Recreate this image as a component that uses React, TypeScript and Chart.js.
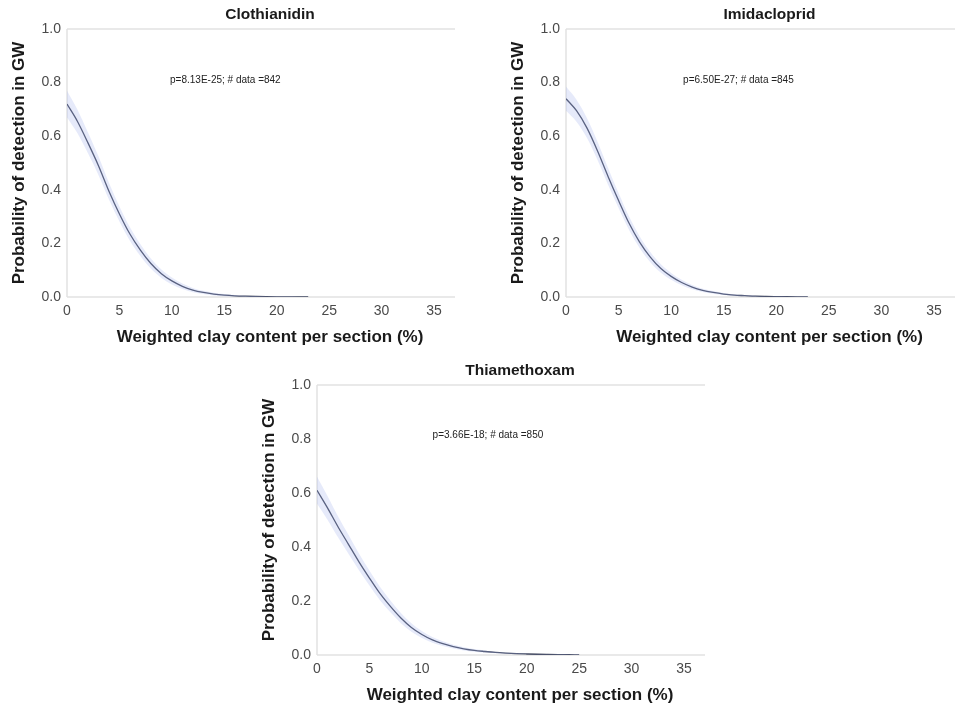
import React, { useEffect, useRef } from "react";
import { Chart, registerables } from "chart.js";

Chart.register(...registerables);

// ---- data ----
const CLAY_PCT = [0, 1, 2, 3, 4, 5, 6, 7, 8, 9, 10, 11, 12, 13, 14, 15, 16, 17, 18, 19, 20, 21, 22, 23, 24, 25];

const CLOTHIANIDIN_P = [0.72, 0.655, 0.575, 0.49, 0.395, 0.31, 0.235, 0.175, 0.125, 0.087, 0.06, 0.04, 0.026, 0.017, 0.011, 0.007, 0.0045, 0.003, 0.002, 0.0013, 0.0008, 0.0005, 0.0003, 0.0002];
const CLOTHIANIDIN_CI = [0.05, 0.044, 0.039, 0.035, 0.031, 0.028, 0.025, 0.022, 0.019, 0.016, 0.013, 0.01, 0.008, 0.006, 0.005, 0.004, 0.003, 0.002, 0.002, 0.001, 0.001, 0.001, 0.001, 0.001];

const IMIDACLOPRID_P = [0.74, 0.695, 0.63, 0.545, 0.45, 0.36, 0.275, 0.205, 0.15, 0.107, 0.077, 0.054, 0.037, 0.025, 0.017, 0.011, 0.007, 0.005, 0.003, 0.002, 0.0014, 0.0009, 0.0006, 0.0004];
const IMIDACLOPRID_CI = [0.045, 0.041, 0.037, 0.034, 0.031, 0.028, 0.025, 0.022, 0.019, 0.016, 0.013, 0.01, 0.008, 0.006, 0.005, 0.004, 0.003, 0.002, 0.002, 0.001, 0.001, 0.001, 0.001, 0.001];

const THIAMETHOXAM_P = [0.61, 0.545, 0.475, 0.41, 0.345, 0.285, 0.228, 0.18, 0.137, 0.102, 0.076, 0.056, 0.042, 0.031, 0.023, 0.017, 0.013, 0.0095, 0.007, 0.005, 0.0037, 0.0027, 0.002, 0.0014, 0.001, 0.0007];
const THIAMETHOXAM_CI = [0.05, 0.044, 0.039, 0.035, 0.031, 0.028, 0.025, 0.022, 0.019, 0.016, 0.013, 0.011, 0.009, 0.007, 0.006, 0.005, 0.004, 0.003, 0.002, 0.002, 0.001, 0.001, 0.001, 0.001, 0.001, 0.001];

const TITLES = ["Clothianidin", "Imidacloprid", "Thiamethoxam"];
const NOTES = ["p=8.13E-25; # data =842", "p=6.50E-27; # data =845", "p=3.66E-18; # data =850"];
const NOTE_POS_X = [15.1, 16.4, 16.3];
const NOTE_POS_Y = [0.81, 0.81, 0.815];

const X_TICKS = [0, 5, 10, 15, 20, 25, 30, 35];
const Y_TICKS = [0, 0.2, 0.4, 0.6, 0.8, 1.0];
const X_MAX = 37;

const X_TITLE = "Weighted clay content per section (%)";
const Y_TITLE = "Probability of detection in GW";

const FONT = "'Liberation Sans', Arial, Helvetica, sans-serif";

type Box = { left: number; top: number; width: number; height: number };
type Area = { l: number; t: number; r: number; b: number };

const PANELS: { idx: number; values: number[]; ci: number[]; box: Box; area: Area }[] = [
  { idx: 0, values: CLOTHIANIDIN_P, ci: CLOTHIANIDIN_CI, box: { left: 0, top: 0, width: 480, height: 350 }, area: { l: 67, t: 29, r: 455, b: 297 } },
  { idx: 1, values: IMIDACLOPRID_P, ci: IMIDACLOPRID_CI, box: { left: 480, top: 0, width: 484, height: 350 }, area: { l: 86, t: 29, r: 475, b: 297 } },
  { idx: 2, values: THIAMETHOXAM_P, ci: THIAMETHOXAM_CI, box: { left: 240, top: 356, width: 480, height: 350 }, area: { l: 77, t: 29, r: 465, b: 299 } },
];

function Panel({ idx, values, ci, box, area }: { idx: number; values: number[]; ci: number[]; box: Box; area: Area }) {
  const ref = useRef<HTMLCanvasElement | null>(null);

  useEffect(() => {
    if (!ref.current) return;
    const main = values.map((v, i) => ({ x: CLAY_PCT[i], y: v }));
    const lower = values.map((v, i) => ({ x: CLAY_PCT[i], y: Math.max(0, v - ci[i]) }));
    const upper = values.map((v, i) => ({ x: CLAY_PCT[i], y: v + ci[i] }));

    const decor = {
      id: "decor",
      beforeDatasetsDraw(chart: any) {
        const { ctx, chartArea: a } = chart;
        ctx.save();
        ctx.strokeStyle = "#e2e2e2";
        ctx.lineWidth = 1.5;
        ctx.beginPath();
        ctx.moveTo(a.left, a.top);
        ctx.lineTo(a.right, a.top);
        ctx.moveTo(a.left, a.top);
        ctx.lineTo(a.left, a.bottom);
        ctx.moveTo(a.left, a.bottom);
        ctx.lineTo(a.right, a.bottom);
        ctx.stroke();
        ctx.restore();
      },
      afterDraw(chart: any) {
        const { ctx, chartArea: a, scales } = chart;
        const cx = (a.left + a.right) / 2 + 9;
        ctx.save();
        ctx.fillStyle = "#1a1a1a";
        ctx.textAlign = "center";
        ctx.textBaseline = "middle";
        ctx.font = `bold 15.5px ${FONT}`;
        ctx.fillText(TITLES[idx], cx, a.top - 14);
        ctx.font = `bold 17px ${FONT}`;
        ctx.fillText(X_TITLE, cx, a.bottom + 40);
        ctx.save();
        ctx.translate(a.left - 48, (a.top + a.bottom) / 2);
        ctx.rotate(-Math.PI / 2);
        ctx.fillText(Y_TITLE, 0, 0);
        ctx.restore();
        ctx.font = `10px ${FONT}`;
        ctx.fillStyle = "#222";
        ctx.fillText(NOTES[idx], scales.x.getPixelForValue(NOTE_POS_X[idx]), scales.y.getPixelForValue(NOTE_POS_Y[idx]));
        ctx.restore();
      },
    };

    const chart = new Chart(ref.current, {
      type: "line",
      data: {
        datasets: [
          { data: lower, borderWidth: 0, pointRadius: 0, borderColor: "transparent", fill: false, cubicInterpolationMode: "monotone" },
          { data: upper, borderWidth: 0, pointRadius: 0, borderColor: "transparent", backgroundColor: "rgba(165,178,238,0.28)", fill: "-1", cubicInterpolationMode: "monotone" },
          { data: main, borderWidth: 1.3, pointRadius: 0, borderColor: "#3d4358", fill: false, cubicInterpolationMode: "monotone" },
        ],
      } as any,
      options: {
        animation: false,
        responsive: false,
        maintainAspectRatio: false,
        layout: { padding: { top: area.t, right: box.width - area.r, left: 0, bottom: 0 } },
        plugins: { legend: { display: false }, tooltip: { enabled: false }, title: { display: false } },
        scales: {
          x: {
            type: "linear",
            min: 0,
            max: X_MAX,
            grid: { display: false, drawTicks: false },
            border: { display: false },
            afterBuildTicks: (s: any) => { s.ticks = X_TICKS.map((v) => ({ value: v })); },
            afterFit: (s: any) => { s.height = box.height - area.b; },
            ticks: { padding: 6, color: "#4a4a4a", font: { family: FONT, size: 14 }, maxRotation: 0, autoSkip: false },
          },
          y: {
            min: 0,
            max: 1,
            grid: { display: false, drawTicks: false },
            border: { display: false },
            afterBuildTicks: (s: any) => { s.ticks = Y_TICKS.map((v) => ({ value: v })); },
            afterFit: (s: any) => { s.width = area.l; },
            ticks: { padding: 6, color: "#4a4a4a", font: { family: FONT, size: 14 }, callback: (v: any) => Number(v).toFixed(1) },
          },
        },
      } as any,
      plugins: [decor],
    });
    return () => chart.destroy();
  }, []);

  return (
    <canvas
      ref={ref}
      width={box.width}
      height={box.height}
      style={{ position: "absolute", left: box.left, top: box.top, width: box.width, height: box.height }}
    />
  );
}

export default function App() {
  return (
    <div style={{ position: "fixed", left: 0, top: 0, width: 964, height: 706, background: "#fff", overflow: "hidden" }}>
      {PANELS.map((p) => (
        <Panel key={p.idx} {...p} />
      ))}
    </div>
  );
}
